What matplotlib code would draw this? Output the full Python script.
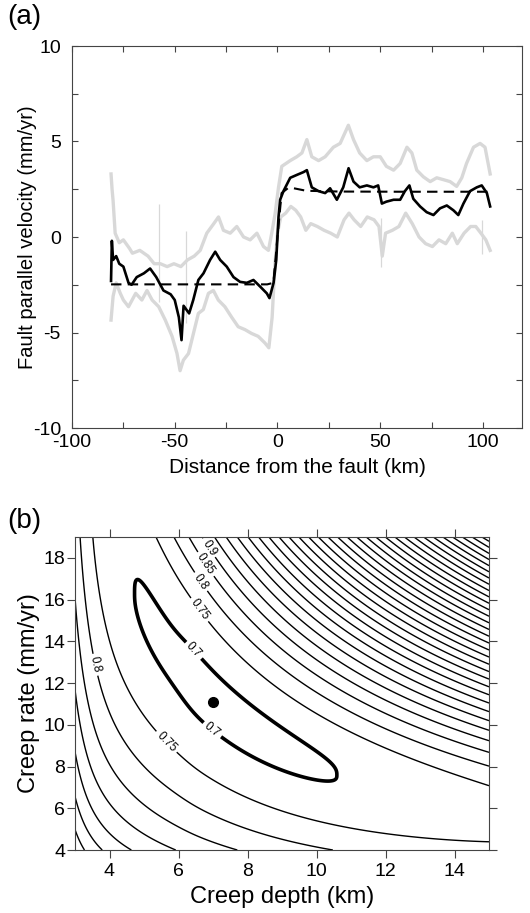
import numpy as np
import matplotlib
matplotlib.use("Agg")
import matplotlib.pyplot as plt

plt.rcParams['font.family'] = ['Liberation Sans', 'DejaVu Sans']
plt.rcParams['axes.unicode_minus'] = False

# ---- panel (a): fault parallel velocity profile ----
mean_x = [-81, -80.6, -80, -78.5, -77, -75, -72.5, -71, -68.5, -65, -62, -59, -55.5, -52, -50,
          -48, -46.7, -45.7, -43, -41, -38.5, -36, -32.8, -30.3, -27.9, -24.7, -21.4, -18.2,
          -14.9, -11.7, -8.4, -5.2, -3.9, -1.9, -0.6, 0.5, 1.3, 2.9, 6.2, 9.4, 12.7, 14.3, 16.7,
          20, 23.2, 25.6, 28.9, 32, 34.6, 37, 40, 43.5, 46.7, 49, 50.8, 53, 56.5, 59.7, 62, 64.2,
          66.1, 69.4, 72.6, 75.9, 79.1, 82.4, 85.6, 88, 90.5, 93.7, 97, 99.4, 101.9, 103.5]
mean_v = [-2.3, -0.2, -1.2, -1.0, -1.4, -1.55, -2.4, -2.5, -2.1, -1.9, -1.65, -2.1, -2.8, -3.0, -3.3,
          -4.2, -5.4, -3.6, -4.0, -3.3, -2.25, -1.9, -1.2, -0.77, -1.2, -1.55, -2.1, -2.35,
          -2.4, -2.25, -2.6, -2.95, -3.2, -2.4, -1.2, 1.05, 1.95, 2.4, 3.1, 3.25, 3.4, 3.5, 2.6,
          2.4, 2.3, 2.55, 1.95, 2.6, 3.6, 2.9, 2.6, 2.7, 2.6, 2.7, 1.75, 1.85, 1.95, 1.95, 2.4, 2.7,
          2.0, 1.6, 1.3, 1.15, 1.5, 1.65, 1.4, 1.15, 1.75, 2.4, 2.6, 2.7, 2.3, 1.6]

upper_x = [-81, -80.5, -80, -79, -77, -75, -72, -70.6, -67, -63, -60, -57, -53.7, -50.4, -47,
           -43.8, -40.5, -37.6, -34.4, -31, -28.7, -26.3, -23, -19.8, -16.5, -13.3, -10, -6.8,
           -4.4, -2.8, -1.1, 0.5, 2.1, 6.2, 9.4, 11.9, 14.3, 16.7, 20, 23.2, 27.2, 30.5, 34.5, 37,
           40, 43.5, 46.7, 50, 53, 56.5, 59.7, 63, 65.4, 67.8, 71, 74.3, 77.5, 80.8, 84, 87.2,
           89.7, 92, 95.4, 98.6, 101, 103.5]
upper_v = [3.3, 2.5, 1.9, 0.2, -0.3, -0.15, -0.6, -0.85, -0.7, -1.0, -1.4, -1.4, -1.55, -1.4, -1.55,
           -1.2, -1.0, -0.7, 0.2, 0.7, 1.05, 0.35, 0.2, 0.55, 0.0, -0.15, 0.2, -0.5,
           -0.7, 0.2, 1.25, 2.6, 3.7, 4.0, 4.2, 4.4, 5.1, 4.2, 4.0, 4.2, 4.7, 4.9, 5.85, 5.1,
           4.4, 4.0, 4.2, 4.2, 3.7, 3.5, 3.85, 4.7, 4.4, 3.5, 3.15, 2.9, 3.1, 3.0, 2.9, 2.65,
           3.1, 3.85, 4.7, 4.9, 4.7, 3.3]

lower_x = [-81, -80, -78.5, -76.5, -75, -72.5, -69, -66, -63.5, -61, -57.8, -54.6, -51.3, -48.9,
           -47.4, -45.8, -43.3, -40.9, -38.5, -36.1, -33.6, -31.2, -28.8, -25.6, -22.3, -19.1,
           -15.8, -12.6, -9.4, -6.1, -4.2, -2.6, -1.3, 0, 1.6, 4, 6.5, 8.9, 11.3, 13.8, 16.2, 19.4,
           22.7, 25.9, 29.1, 32.4, 34.8, 37.3, 40.5, 43.7, 47, 49.4, 51, 52.6, 55.9, 59.1, 62.4,
           65.6, 68.9, 72.1, 75.4, 78.6, 81.9, 85.1, 87.5, 90.8, 94, 96.5, 99, 101.4, 103.5]
lower_v = [-4.35, -3.1, -2.4, -2.95, -3.3, -3.65, -2.95, -3.3, -2.8, -3.3, -3.65, -4.35, -5.2, -6.1,
           -7.0, -6.45, -6.1, -5.05, -4.0, -3.8, -2.95, -2.8, -3.3, -3.65, -4.2, -4.7,
           -4.85, -5.05, -5.2, -5.55, -5.8, -4.2, -1.55, 0.2, 1.05, 1.25, 1.6, 1.4, 1.05, 0.35, 0.7, 0.55,
           0.35, 0.2, 0.0, 0.9, 1.25, 0.9, 0.55, 1.05, 0.9, 0.55, -1.0, 0.2, 0.35, 0.55, 1.25,
           0.7, 0.0, -0.35, -0.5, -0.15, -0.35, 0.2, -0.35, 0.2, 0.55, 0.55, 0.2, -0.15, -0.7]

spike_x = [-57.8, -44.5, 50.5, 99.5]
spike_lo = [-3.4, -4.5, -1.55, -0.9]
spike_hi = [1.75, 0.3, 1.0, 0.9]

model_x = [-81, -5, -2, 0, 2, 5, 8, 14, 30, 60, 104]
model_v = [-2.48, -2.48, -2.4, 0.0, 2.3, 2.55, 2.55, 2.42, 2.38, 2.37, 2.37]

# ---- panel (b): misfit surface, creep depth vs creep rate ----
best_depth, best_rate = 7.0, 11.1      # best-fit point
valley_center = 11.04                   # rate at the valley floor for depth 7 km
misfit_min = 0.688
thin_levels = np.round(np.arange(0.75, 3.01, 0.05), 2)
label_levels = [0.75, 0.8, 0.85, 0.9]
label_pos_70 = [(6.4, 13.5), (6.9, 9.6)]
label_pos_rest = [(6.6, 15.5), (5.6, 9.1), (6.6, 16.8), (3.65, 12.9), (6.7, 17.6), (6.9, 18.5)]

depth = np.linspace(3, 15, 600)
rate = np.linspace(4, 19, 600)
D, S = np.meshgrid(depth, rate)
w = np.log(D / best_depth)                                       # along the valley
u = np.log(S / valley_center) + 0.95 * w - 0.108 * w**2          # across the valley
g = np.where(u > 0, 0.65 * u**2 + 0.4 * u**3, 0.195 * (np.sqrt(u**2 + 0.01) - 0.1))
fv = np.where(w < 0, 0.007 * np.tanh((w / 0.15)**2) + 0.21 * w**4, 0.07 * w**2)
k = 1.4
misfit = misfit_min + (g**k + fv**k)**(1 / k)

fig = plt.figure(figsize=(5.30, 9.13), dpi=100)

spine_col = '#444444'
gray = '#d8d8d8'

# ---------------- (a) ----------------
ax1 = fig.add_axes([72/530, 1-428/913, 450/530, 382/913])
ax1.plot(upper_x, upper_v, color=gray, lw=2.4, zorder=1)
ax1.plot(lower_x, lower_v, color=gray, lw=2.4, zorder=1)
ax1.vlines(spike_x, spike_lo, spike_hi, color=gray, lw=0.9, zorder=1)
ax1.plot(mean_x, mean_v, color='black', lw=1.9, zorder=3)
ax1.plot(model_x, model_v, color='black', lw=1.5, ls=(0, (5, 3)), zorder=2)
ax1.set_xlim(-100, 119)
ax1.set_ylim(-10, 10)
ax1.set_xticks([-100, -50, 0, 50, 100])
ax1.set_xticks([-75, -25, 25, 75], minor=True)
ax1.set_yticks([-10, -5, 0, 5, 10])
ax1.set_yticks([-7.5, -2.5, 2.5, 7.5], minor=True)
ax1.tick_params(which='both', direction='in', top=True, right=True, length=4.5,
                width=0.8, color=spine_col, labelsize=14)
ax1.tick_params(axis='y', pad=8)
ax1.tick_params(axis='x', pad=4.5)
for sp in ax1.spines.values():
    sp.set_color(spine_col)
ax1.set_xlabel('Distance from the fault (km)', fontsize=15)
ax1.set_ylabel('Fault parallel velocity (mm/yr)', fontsize=14.5)
ax1.xaxis.set_label_coords(0.5, -0.078)
ax1.yaxis.set_label_coords(-0.078, 0.5)
fig.text(7/530, 1-4/913, '(a)', fontsize=20, ha='left', va='top')

# ---------------- (b) ----------------
ax2 = fig.add_axes([75/530, 1-850/913, 414/530, 313/913])
cs = ax2.contour(D, S, misfit, levels=thin_levels, colors='black', linewidths=1.0)
cs70 = ax2.contour(D, S, misfit, levels=[0.7], colors='black', linewidths=2.6)
ax2.clabel(cs70, fmt='%g', fontsize=8.5, manual=label_pos_70, inline_spacing=3)
ax2.clabel(cs, levels=cs.levels[:len(label_levels)], fmt='%g', fontsize=8.5,
           manual=label_pos_rest, inline_spacing=3)
ax2.plot([best_depth], [best_rate], 'o', color='black', ms=7)
ax2.set_xlim(3, 15)
ax2.set_ylim(4, 19)
ax2.set_xticks([4, 6, 8, 10, 12, 14])
ax2.set_yticks([4, 6, 8, 10, 12, 14, 16, 18])
ax2.tick_params(direction='out', top=True, right=True, length=5.5, width=0.8,
                color=spine_col, labelsize=14)
ax2.tick_params(axis='y', pad=1.5)
ax2.tick_params(axis='x', pad=4)
for sp in ax2.spines.values():
    sp.set_color(spine_col)
ax2.set_xlabel('Creep depth (km)', fontsize=17)
ax2.set_ylabel('Creep rate (mm/yr)', fontsize=17)
ax2.xaxis.set_label_coords(0.5, -0.115)
ax2.yaxis.set_label_coords(-0.085, 0.5)
fig.text(7/530, 1-508/913, '(b)', fontsize=20, ha='left', va='top')

fig.savefig('out.png', dpi=100)
